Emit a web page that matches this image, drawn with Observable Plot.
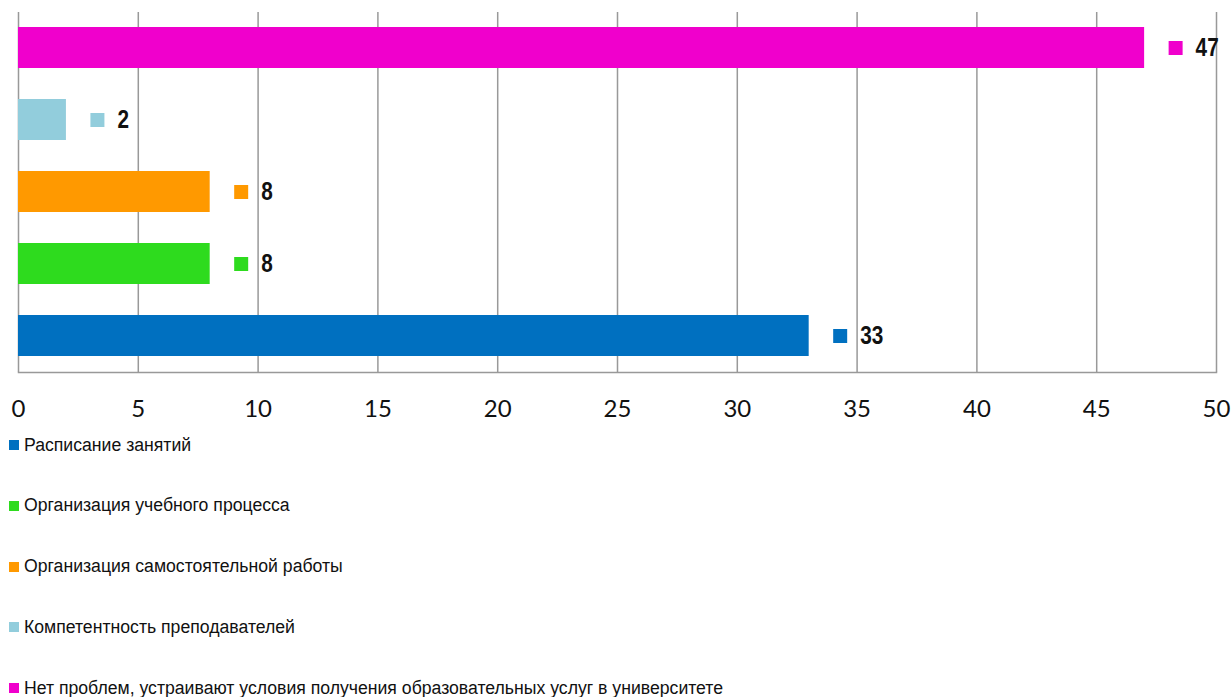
<!DOCTYPE html>
<html>
<head>
<meta charset="utf-8">
<script src="https://cdn.jsdelivr.net/npm/d3@7"></script>
<script src="https://cdn.jsdelivr.net/npm/@observablehq/plot@0.6"></script>
<style>
  body { margin: 0; background: #fff; width: 1232px; }
  #chart svg { display: block; }
  .legend { display: flex; flex-direction: column; gap: 38.75px; padding-left: 9px; }
  .item { height: 22px; display: flex; align-items: center; font-family: "Liberation Sans", Arial, sans-serif; font-size: 18px; color: #111; white-space: nowrap; }
  .item .lbl { display: inline-block; transform: scaleX(0.98); transform-origin: left center; }
  .sw { width: 10px; height: 10px; margin-right: 5px; flex: none; }
</style>
</head>
<body>
<div id="chart"></div>
<div class="legend" id="legend"></div>
<script>
const categories = [
  "Расписание занятий",
  "Организация учебного процесса",
  "Организация самостоятельной работы",
  "Компетентность преподавателей",
  "Нет проблем, устраивают условия получения образовательных услуг в университете"
];
const values = [33, 8, 8, 2, 47];
const colors = ["#0070C0", "#2EDB1E", "#FF9900", "#92CDDC", "#F000CC"];
const xTicks = [0, 5, 10, 15, 20, 25, 30, 35, 40, 45, 50];

const data = categories.map((c, i) => ({category: c, value: values[i]}));

const chart = Plot.plot({
  width: 1232,
  height: 434,
  marginLeft: 18,
  marginRight: 16,
  marginTop: 12,
  marginBottom: 62,
  style: {background: "#fff", color: "#111"},
  x: {domain: [0, 50], axis: null, label: null},
  y: {domain: categories.slice().reverse(), paddingInner: 0.43, paddingOuter: 0.215, axis: null},
  color: {domain: categories, range: colors},
  marks: [
    Plot.gridX(xTicks, {stroke: "#999", strokeOpacity: 1, strokeWidth: 1.5}),
    Plot.barX(data, {x: "value", y: "category", fill: "category"}),
    Plot.dot(data, {x: "value", y: "category", fill: "category", symbol: "square", r: 7.9, dx: 31}),
    Plot.text(data, {x: "value", y: "category", text: d => String(d.value), dx: 51, textAnchor: "start",
      fontWeight: "bold", fontSize: 25, fontFamily: "'Liberation Sans', Arial, sans-serif", fill: "#111", className: "vlab"}),
    Plot.frame({anchor: "bottom", stroke: "#999", strokeWidth: 1.5}),
    Plot.axisX(xTicks, {tickSize: 0, tickPadding: 27, fontSize: 24, label: null,
      fontFamily: "Lato, 'Open Sans', sans-serif", tickFormat: d => String(d), fill: "#111"})
  ]
});
// condense the bold value labels horizontally (narrow-font look), keeping their anchor
d3.select(chart).selectAll(".vlab text").each(function() {
  const t = this.getAttribute("transform") || "";
  this.setAttribute("transform", (t + " scale(0.83,1)").trim());
});
document.getElementById("chart").appendChild(chart);

const legend = document.getElementById("legend");
categories.forEach((c, i) => {
  const item = document.createElement("div");
  item.className = "item";
  const sw = document.createElement("span");
  sw.className = "sw";
  sw.style.background = colors[i];
  const t = document.createElement("span");
  t.className = "lbl";
  t.textContent = c;
  item.appendChild(sw);
  item.appendChild(t);
  legend.appendChild(item);
});
</script>
</body>
</html>
